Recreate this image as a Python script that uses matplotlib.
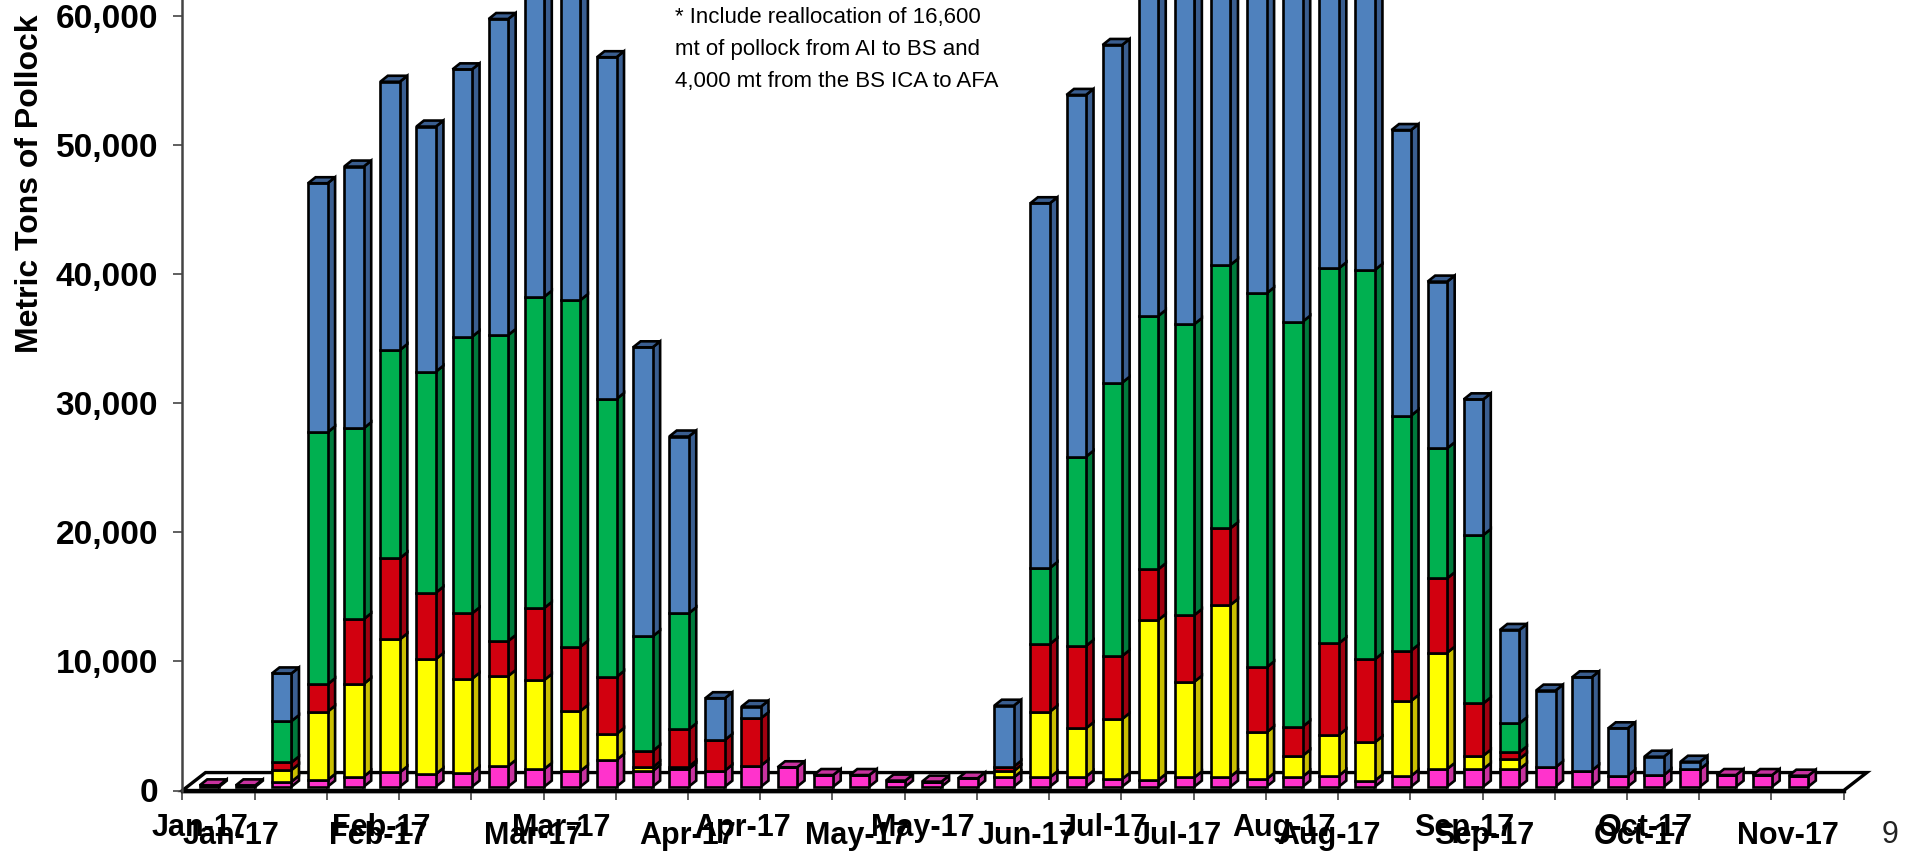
import matplotlib
matplotlib.use("Agg")
import matplotlib.pyplot as plt

# stacked catch per week, metric tons (blue tops above 61,000 are cut off there)
magenta = [100, 100, 390, 520, 780, 1110, 980, 1080, 1600, 1370, 1210, 2070, 1210, 1370, 1240, 1630,
           1500, 900, 900, 470, 390, 650, 720, 720, 780, 590, 520, 720, 780, 590, 780, 850, 470, 830,
           1370, 1370, 1370, 1500, 1240, 850, 900, 1340, 900, 900, 850]
yellow = [0, 0, 900, 5290, 7180, 10300, 8910, 7280, 6970, 6890, 4650, 2010, 280, 180, 0, 0,
          0, 0, 0, 0, 0, 0, 490, 5090, 3740, 4650, 12390, 7410, 13300, 3620, 1620, 3150, 2970, 5810,
          9010, 1030, 770, 0, 0, 0, 0, 0, 0, 0, 0]
red = [0, 0, 590, 2120, 5010, 6280, 5140, 5060, 2710, 5580, 4980, 4420, 1270, 2890, 2380, 3670,
       0, 0, 0, 0, 0, 0, 340, 5240, 6380, 4880, 3930, 5160, 5940, 5030, 2250, 7100, 6430, 3900,
       5760, 4050, 520, 0, 0, 0, 0, 0, 0, 0, 0]
green = [0, 0, 3200, 19520, 14790, 16130, 17120, 21430, 23700, 24110, 26850, 21530, 8880, 8990, 0, 0,
         0, 0, 0, 0, 0, 0, 0, 5890, 14660, 21170, 19620, 22540, 20400, 28970, 31370, 29050, 30160, 18200,
         10070, 13040, 2250, 0, 0, 0, 0, 0, 0, 0, 0]
blue = [0, 0, 3690, 19290, 20270, 20780, 18980, 20710, 24480, 25050, 25300, 26470, 22390, 13690, 3230, 900,
        0, 0, 0, 0, 0, 0, 4720, 28250, 28020, 26160, 26000, 28160, 24090, 25790, 26980, 22350, 21980, 22120,
        12910, 10510, 7230, 5940, 7230, 3670, 1420, 590, 0, 0, 0]

front_colors = ["#FF33CC", "#FFFF00", "#D2000F", "#00B050", "#4F81BD"]
side_colors = ["#C8329F", "#C9BE00", "#A00010", "#007A3C", "#3A5E90"]

y_ticks = [0, 10000, 20000, 30000, 40000, 50000, 60000]
axis_months = ["Jan-17", "Feb-17", "Mar-17", "Apr-17", "May-17", "Jul-17", "Aug-17", "Sep-17", "Oct-17"]
box_months = ["Jan-17", "Feb-17", "Mar-17", "Apr-17", "May-17", "Jun-17", "Jul-17", "Aug-17", "Sep-17", "Oct-17", "Nov-17"]
box_x = [231, 378, 533, 688, 857, 1027, 1178, 1329, 1484, 1641, 1788]

W, H = 1907, 852
plt.rcParams["font.family"] = ["Liberation Sans", "DejaVu Sans"]

fig = plt.figure(figsize=(W / 100, H / 100), dpi=100)
left, right, zero = 182.4, 1843.7, 790.5
ax = fig.add_axes([left / W, (H - zero) / H, (right - left) / W, zero / H])
ax.set_xlim(0, 46)
ax.set_ylim(0, 61230)

# 3d look: how far the back of a bar sits from its front
dx, dy = 0.208, 465
base = 297
bar_w = 0.54
edge = {"edgecolor": "black", "linewidth": 1.9}

# floor of the chart
ax.fill([0, 46, 46.64, 0.64], [0, 0, 1390, 1390], facecolor="white", edgecolor="black",
        linewidth=2.4, clip_on=False, zorder=1)
ax.plot([0, 46], [-100, -100], color="#bbbbbb", linewidth=2, clip_on=False, zorder=1)

series = [magenta, yellow, red, green, blue]
bottoms = [base] * len(magenta)
xs = [i + 0.75 for i in range(len(magenta))]
for vals, fc, sc in zip(series, front_colors, side_colors):
    ax.bar(xs, vals, bottom=bottoms, width=bar_w, color=fc, zorder=4, **edge)
    for i, v in enumerate(vals):
        if v == 0:
            continue
        x1 = xs[i] + bar_w / 2
        y0 = bottoms[i]
        ax.fill([x1, x1 + dx, x1 + dx, x1], [y0, y0 + dy, y0 + v + dy, y0 + v],
                facecolor=sc, zorder=3, **edge)
        bottoms[i] = y0 + v

# top face takes the colour of the highest segment
for i, x in enumerate(xs):
    top_color = [sc for vals, sc in zip(series, side_colors) if vals[i] > 0][-1]
    x0, x1 = x - bar_w / 2, x + bar_w / 2
    t = bottoms[i]
    ax.fill([x0, x1, x1 + dx, x0 + dx], [t, t, t + dy, t + dy], facecolor=top_color, zorder=4, **edge)

for s in ["top", "right"]:
    ax.spines[s].set_visible(False)
ax.spines["left"].set_color("#444444")
ax.spines["left"].set_linewidth(1.8)
ax.spines["bottom"].set_color("black")
ax.spines["bottom"].set_linewidth(2.4)
ax.spines["bottom"].set_zorder(2)

ax.set_yticks(y_ticks)
ax.set_yticklabels([f"{v:,}" for v in y_ticks], fontsize=24, fontweight="bold")
ax.tick_params(axis="y", length=6.5, width=1.2, color="#444444", pad=11)

ax.set_xticks(range(0, 47, 2))
ax.set_xticklabels([])
ax.tick_params(axis="x", which="major", length=6.5, width=1.2, color="#444444")
ax.set_xticks([0.5 + 5 * k for k in range(len(axis_months))], minor=True)
ax.set_xticklabels(axis_months, minor=True)
ax.tick_params(axis="x", which="minor", length=0, pad=16, labelsize=22)
for label in ax.get_xticklabels(minor=True):
    label.set_fontweight("bold")

# the second row of month names sits a little lower and overlaps the first
for name, px in zip(box_months, box_x):
    fig.text(px / W, 1 - 836 / H, name, fontsize=22, fontweight="bold", ha="center", va="center")

fig.text(30 / W, 1 - 184 / H, "Metric Tons of Pollock", fontsize=23, fontweight="bold",
         rotation=90, ha="center", va="center")

note = ["* Include reallocation of 16,600", "mt of pollock from AI to BS and", "4,000 mt from the BS ICA to AFA"]
for line, py in zip(note, [18, 50, 82]):
    fig.text(675 / W, 1 - py / H, line, fontsize=16, ha="left", va="center",
             family=["Liberation Sans Narrow", "Liberation Sans"])

fig.text(1890 / W, 1 - 835 / H, "9", fontsize=22, color="#222222", ha="center", va="center")

fig.savefig("out.png", dpi=100)
